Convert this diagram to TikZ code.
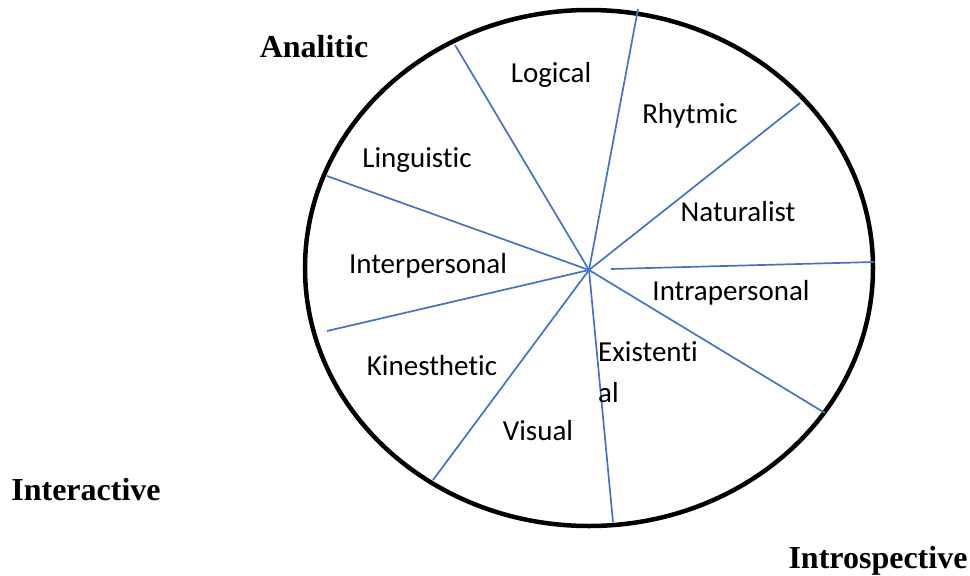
\documentclass[tikz,border=0pt]{standalone}
\usepackage{fontspec}
\setmainfont{Liberation Serif}
\newfontfamily\lbl[Ligatures=NoCommon]{Carlito}
\begin{document}
\begin{tikzpicture}[x=1pt,y=-1pt,
  ray/.style={draw={rgb,255:red,68;green,114;blue,196},line width=1.7pt},
  lab/.style={font=\lbl\fontsize{29}{33}\selectfont,inner sep=0pt},
  side/.style={font=\bfseries\fontsize{32}{36}\selectfont,inner sep=0pt}]
\useasboundingbox (0,0) rectangle (970,576);
\draw[line width=4.5pt] (589,268) ellipse [x radius=284, y radius=258];
\coordinate (c) at (589,270);
\coordinate (c2) at (611,269);
\coordinate (e1) at (455,45);
\coordinate (e2) at (638,9);
\coordinate (e3) at (800,103);
\coordinate (e4) at (874,262);
\coordinate (e5) at (825,413);
\coordinate (e6) at (613,522);
\coordinate (e7) at (433,480);
\coordinate (e8) at (327,331);
\coordinate (e9) at (327,176);
\draw[ray] (c) -- (e1);
\draw[ray] (c) -- (e2);
\draw[ray] (c) -- (e3);
\draw[ray] (c2) -- (e4);
\draw[ray] (c) -- (e5);
\draw[ray] (c) -- (e6);
\draw[ray] (c) -- (e7);
\draw[ray] (c) -- (e8);
\draw[ray] (c) -- (e9);
\node[lab] (logical) at (551,75) {Logical};
\node[lab] (rhytmic) at (690,116) {Rhytmic};
\node[lab] (linguistic) at (417,160) {Linguistic};
\node[lab] (naturalist) at (738,212) {Naturalist};
\node[lab] (interpersonal) at (428,266) {Interpersonal};
\node[lab] (intrapersonal) at (731,293) {Intrapersonal};
\node[lab,anchor=west] (existential1) at (598,352) {Existenti};
\node[lab,anchor=west] (existential2) at (598,393) {al};
\node[lab] (kinesthetic) at (432,366) {Kinesthetic};
\node[lab] (visual) at (538,431) {Visual};
\node[side] (analitic) at (314,47) {Analitic};
\node[side] (interactive) at (86,490) {Interactive};
\node[side] (introspective) at (878,561) {Introspective};
\end{tikzpicture}
\end{document}
